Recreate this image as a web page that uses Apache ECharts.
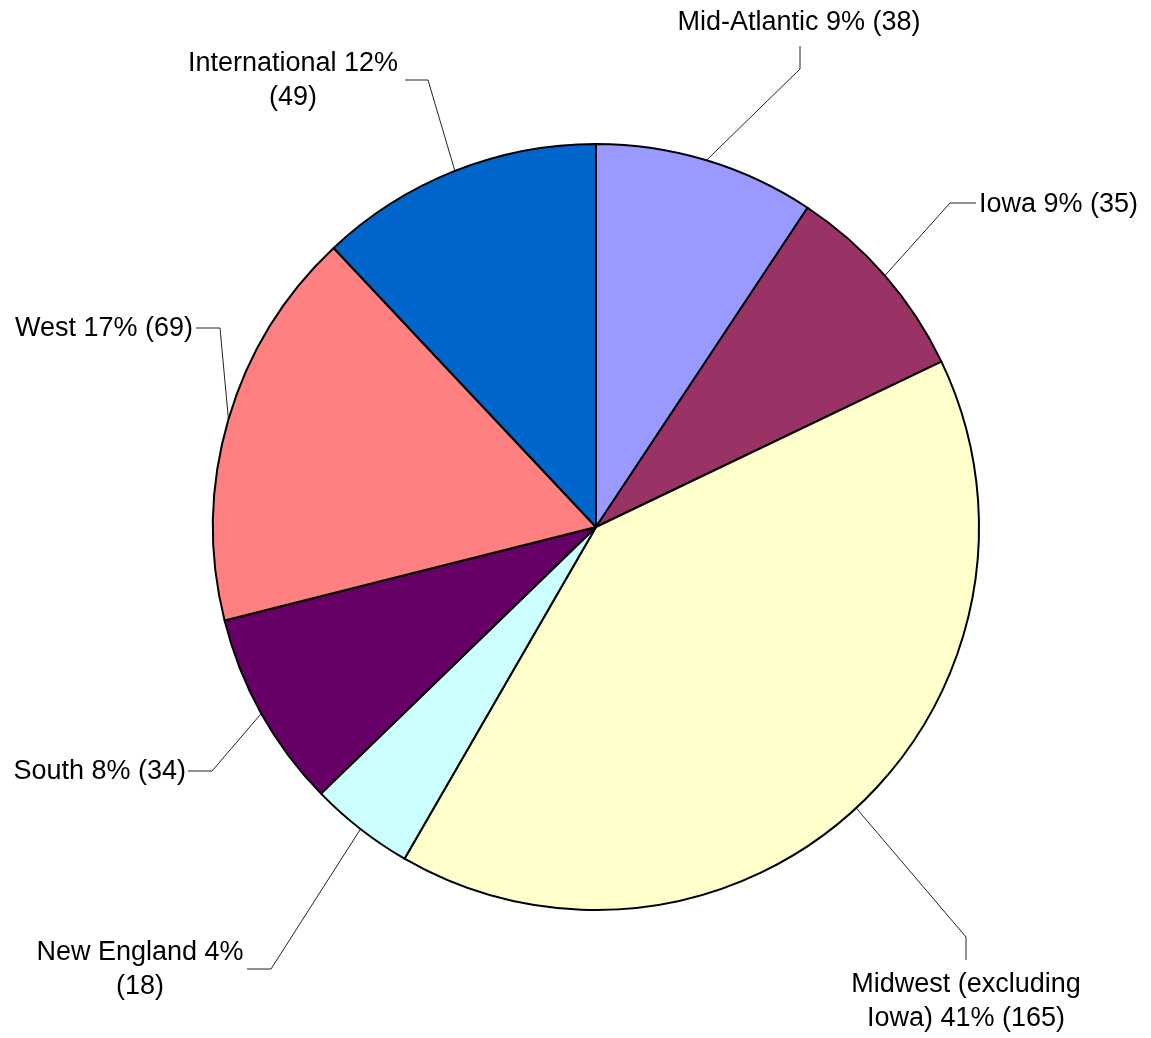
<!DOCTYPE html>
<html>
<head>
<meta charset="utf-8">
<script src="https://cdn.jsdelivr.net/npm/echarts@6/dist/echarts.min.js"></script>
<style>
  html, body { margin: 0; padding: 0; background: #fff; }
  #chart { width: 1151px; height: 1038px; }
</style>
</head>
<body>
<div id="chart"></div>
<script>
// data, clockwise from 12 o'clock
const regions = ['Mid-Atlantic', 'Iowa', 'Midwest (excluding\nIowa)', 'New England', 'South', 'West', 'International'];
const counts = [38, 35, 165, 18, 34, 69, 49];
const percents = [9, 9, 41, 4, 8, 17, 12];

const ColorList = ['#9999FF', '#993366', '#FFFFCC', '#CCFFFF', '#660066', '#FF8080', '#0066CC'];

// where each label sits and the bend of its leader line (px)
const labelSpots = [
    { x: 799, y: 23, align: 'center', elbow: [800, 69], end: [800, 46] },
    { x: 979, y: 205, align: 'left', elbow: [950, 203], end: [976, 203] },
    { x: 966, y: 1002, align: 'center', elbow: [966, 937], end: [966, 960] },
    { x: 140, y: 970, align: 'center', elbow: [271, 969], end: [247, 969] },
    { x: 186, y: 772, align: 'right', elbow: [212, 771], end: [188, 771] },
    { x: 193, y: 329, align: 'right', elbow: [220, 328], end: [196, 328] },
    { x: 293, y: 81, align: 'center', elbow: [428, 80], end: [405, 80] }
];

function labelText(i) {
    const name = regions[i];
    // these two wrap their count onto a second line
    if (i === 3 || i === 6) return name + ' ' + percents[i] + '%\n(' + counts[i] + ')';
    return name + ' ' + percents[i] + '% (' + counts[i] + ')';
}

const chart = echarts.init(document.getElementById('chart'));

const option = {
    animation: false,
    series: [{
        type: 'pie',
        center: [596, 527],
        radius: 383,
        startAngle: 90,
        clockwise: true,
        avoidLabelOverlap: false,
        silent: true,
        data: counts.map((v, i) => ({
            name: regions[i],
            value: v,
            itemStyle: { color: ColorList[i] }
        })),
        itemStyle: {
            borderColor: '#000',
            borderWidth: 2
        },
        label: {
            show: true,
            position: 'outside',
            formatter: (p) => labelText(p.dataIndex),
            color: '#000',
            fontFamily: 'Liberation Sans, Arial, sans-serif',
            fontSize: 27,
            lineHeight: 34
        },
        labelLine: {
            show: true,
            length: 20,
            length2: 20,
            lineStyle: { color: '#222', width: 1 }
        },
        labelLayout: (params) => {
            const s = labelSpots[params.dataIndex];
            const start = params.labelLinePoints ? params.labelLinePoints[0] : s.elbow;
            return {
                x: s.x,
                y: s.y,
                align: s.align,
                verticalAlign: 'middle',
                labelLinePoints: [start, s.elbow, s.end]
            };
        },
        emphasis: { disabled: true }
    }]
};

chart.setOption(option);
</script>
</body>
</html>
